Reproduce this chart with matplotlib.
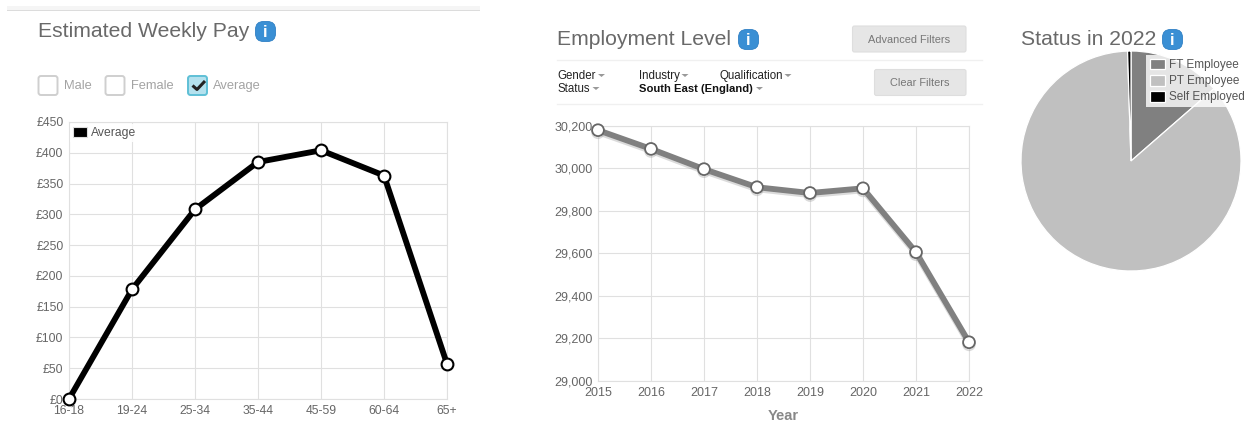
import matplotlib
matplotlib.use("Agg")
import matplotlib.pyplot as plt
import matplotlib.patheffects as pe
from matplotlib.patches import FancyBboxPatch, Rectangle
import numpy as np

plt.rcParams['font.family'] = ['Liberation Sans', 'DejaVu Sans']

pay_ages = ["16-18", "19-24", "25-34", "35-44", "45-59", "60-64", "65+"]
pay_values = [0, 178, 308, 385, 404, 363, 57]
pay_ticks = [0, 50, 100, 150, 200, 250, 300, 350, 400, 450]

emp_years = [2015, 2016, 2017, 2018, 2019, 2020, 2021, 2022]
emp_values = [30178, 30090, 29995, 29910, 29883, 29905, 29605, 29182]
emp_ticks = [29000, 29200, 29400, 29600, 29800, 30000, 30200]

status_labels = ["FT Employee", "PT Employee", "Self Employed"]
status_values = [13.6, 85.9, 0.5]
status_colors = ["#808080", "#c0c0c0", "#000000"]

W, H = 1248, 425
fig = plt.figure(figsize=(W / 100, H / 100), dpi=100, facecolor="white")


def axes_px(x0, y0, x1, y1, **kw):
    return fig.add_axes([x0 / W, 1 - y1 / H, (x1 - x0) / W, (y1 - y0) / H], **kw)


GRID = "#e0e0e0"
TICK = "#666666"


def style(ax):
    ax.grid(True, color=GRID, lw=0.8)
    ax.set_axisbelow(True)
    for s in ax.spines.values():
        s.set_color(GRID)
        s.set_linewidth(0.8)
    ax.tick_params(length=0, labelcolor=TICK, labelsize=8.7)


# Weekly pay
ax1 = axes_px(69, 122, 447, 399)
style(ax1)
x1 = np.arange(len(pay_ages))
ax1.plot(x1, pay_values, color="black", lw=4.2, marker="o", ms=8.5, mfc="white",
         mec="black", mew=1.5, clip_on=False, solid_joinstyle="miter", label="Average", zorder=3)
ax1.set_xlim(0, len(pay_ages) - 1)
ax1.set_ylim(0, 450)
ax1.set_xticks(x1, pay_ages)
ax1.set_yticks(pay_ticks, [f"£{v}" for v in pay_ticks])
ax1.tick_params(axis="x", pad=4)
ax1.tick_params(axis="y", pad=4)
leg1 = ax1.legend(handles=[Rectangle((0, 0), 1, 1, fc="black", ec="#dddddd", lw=0.8)],
                  labels=["Average"], loc="upper left",
                  bbox_to_anchor=(69.5 / W, 1 - 124 / H), bbox_transform=fig.transFigure,
                  frameon=True, fancybox=False, framealpha=0.9, edgecolor="none",
                  fontsize=8.7, labelcolor="#555555", handlelength=1.2, handleheight=0.85,
                  handletextpad=0.3, borderpad=0.25, borderaxespad=0)

# Employment
ax2 = axes_px(598, 125.5, 969, 381)
style(ax2)
ax2.plot(emp_years, emp_values, color="#808080", lw=4.2, marker="o", ms=8.5, mfc="white",
         mec="#666666", mew=1.3, clip_on=False, solid_joinstyle="miter", zorder=3,
         path_effects=[pe.SimpleLineShadow(offset=(0, -1.5), shadow_color="#999999", alpha=0.35),
                       pe.Normal()])
ax2.set_xlim(2015, 2022)
ax2.set_ylim(29000, 30200)
ax2.set_xticks(emp_years)
ax2.set_yticks(emp_ticks, [f"{v:,}" for v in emp_ticks])
ax2.tick_params(axis="x", pad=4, labelsize=9)
ax2.tick_params(axis="y", pad=4, labelsize=9)
ax2.set_xlabel("Year", color="#888888", fontweight="bold", fontsize=10.5, labelpad=7.5)

# Pie
ax3 = axes_px(1021, 51, 1241, 271)
wedges, _ = ax3.pie(status_values, colors=status_colors, startangle=90, counterclock=False,
                    radius=1, wedgeprops=dict(edgecolor="white", linewidth=0.9))
ax3.set_xlim(-1, 1)
ax3.set_ylim(-1, 1)
leg3 = ax3.legend(wedges, status_labels, loc="upper left",
                  bbox_to_anchor=(1146 / W, 1 - 55 / H), bbox_transform=fig.transFigure,
                  frameon=True, fancybox=False, framealpha=0.8, edgecolor="none",
                  fontsize=8.5, labelcolor="#555555", handlelength=1.3, handleheight=1.05,
                  handletextpad=0.35, borderpad=0.3, borderaxespad=0, labelspacing=0.3)
leg3.set_zorder(5)

# Page furniture in pixel coordinates
ov = fig.add_axes([0, 0, 1, 1], zorder=10)
ov.set_xlim(0, W)
ov.set_ylim(H, 0)
ov.axis("off")
ov.patch.set_alpha(0)

ov.add_patch(Rectangle((7, 6), 473, 3.5, fc="#f5f5f5", ec="none"))
ov.add_patch(Rectangle((7, 9.5), 473, 1.5, fc="#dcdcdc", ec="none"))

TITLE = "#696969"
ov.text(38, 31, "Estimated Weekly Pay", fontsize=15.2, color=TITLE, va="center", ha="left")
ov.text(557, 39, "Employment Level", fontsize=15.2, color=TITLE, va="center", ha="left")
ov.text(1021, 39, "Status in 2022", fontsize=15.2, color=TITLE, va="center", ha="left")


def info(x, y):
    ov.add_patch(FancyBboxPatch((x - 10, y - 10), 20, 20, boxstyle="round,pad=0,rounding_size=8",
                                fc="#3a8fd4", ec="#2f7fc4", lw=0.6))
    ov.text(x, y + 0.5, "i", color="white", fontsize=11.5, fontweight="bold", ha="center", va="center")


info(265.5, 31.5)
info(748.5, 39.5)
info(1172.5, 39.5)


def checkbox(x, checked=False):
    ov.add_patch(FancyBboxPatch((x, 76), 19, 19, boxstyle="round,pad=0,rounding_size=2.5",
                                fc="#b4e1ee" if checked else "white",
                                ec="#5fc0d6" if checked else "#cfcfcf", lw=1.4))


checkbox(38.5)
checkbox(105.5)
checkbox(188, True)
ov.plot([192.5, 197, 205], [85.5, 89.5, 81], color="#222222", lw=2.2, solid_capstyle="butt")
for x, s in [(64, "Male"), (131, "Female"), (213, "Average")]:
    ov.text(x, 85.5, s, fontsize=9.3, color="#a3a3a3", va="center", ha="left")


def button(x0, y0, x1, y1, s):
    ov.add_patch(FancyBboxPatch((x0, y0), x1 - x0, y1 - y0, boxstyle="round,pad=0,rounding_size=2",
                                fc="#e6e6e6", ec="#dedede", lw=0.8))
    ov.text((x0 + x1) / 2, (y0 + y1) / 2 + 0.5, s, fontsize=7.9, color="#777777", ha="center", va="center")


button(852.5, 26, 966, 52, "Advanced Filters")
button(874.5, 69.5, 966, 95.5, "Clear Filters")

for y in [59.5, 104]:
    ov.plot([557, 982], [y, y], color="#f0f0f0", lw=1)

DARK = "#222222"


def caret(x, y):
    ov.fill([x - 3.5, x + 3.5, x], [y - 1.5, y - 1.5, y + 1.5], color="#999999", lw=0)


for x, y, s, cx in [(557, 75.5, "Gender", 601.5), (638.5, 75.5, "Industry", 685),
                    (719, 75.5, "Qualification", 788), (557, 88.5, "Status", 596)]:
    ov.text(x, y, s, fontsize=8.3, color=DARK, va="center", ha="left")
    caret(cx, y)
ov.text(639, 88.5, "South East (England)", fontsize=8.1, color="#111111", fontweight="bold", va="center", ha="left")
caret(759.5, 88.5)

fig.savefig("out.png", dpi=100)
